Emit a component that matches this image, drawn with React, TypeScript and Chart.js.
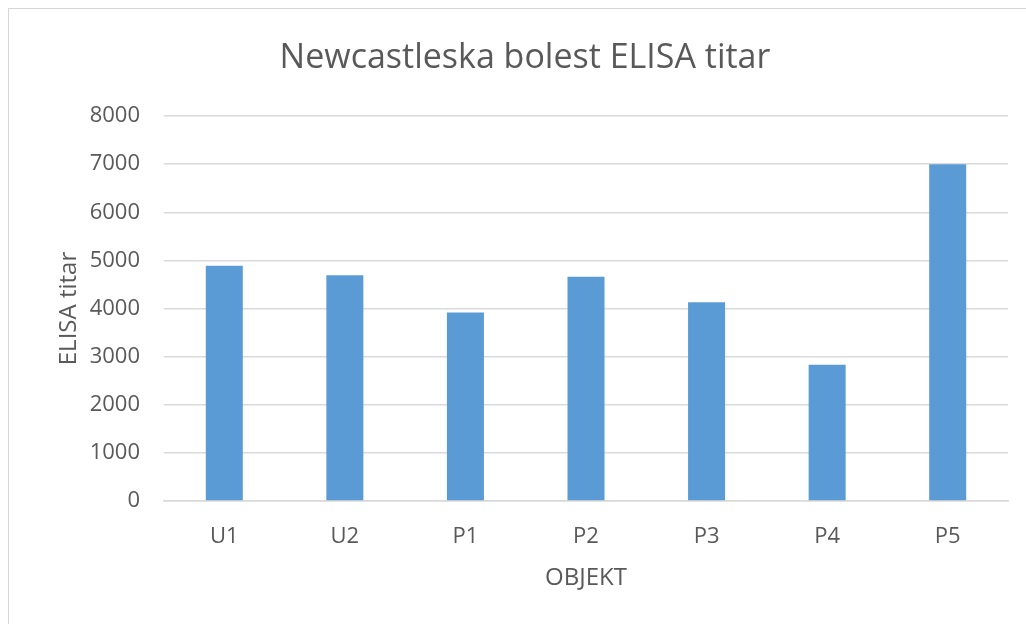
import React, { useEffect, useRef } from "react";
import { Chart, registerables } from "chart.js";

Chart.register(...registerables);

const categories = ["U1", "U2", "P1", "P2", "P3", "P4", "P5"];
const titarValues = [4890, 4690, 3915, 4660, 4130, 2830, 6995];
const yMin = 0;
const yMax = 8000;
const yStep = 1000;
const chartTitle = "Newcastleska bolest ELISA titar";
const xTitle = "OBJEKT";
const yTitle = "ELISA titar";

const FONT = "'Open Sans', 'Noto Sans', sans-serif";
const TEXT = "#595959";
const GRID = "#d9d9d9";

export default function App() {
  const ref = useRef<HTMLCanvasElement | null>(null);

  useEffect(() => {
    if (!ref.current) return;
    const chart = new Chart(ref.current, {
      type: "bar",
      data: {
        labels: categories,
        datasets: [
          {
            label: yTitle,
            data: titarValues,
            backgroundColor: "#5b9bd5",
            borderWidth: 0,
            categoryPercentage: 1,
            barPercentage: 0.307,
          },
        ],
      },
      options: {
        responsive: false,
        animation: false,
        layout: { padding: { left: 42, right: 18, top: 0, bottom: 27.6 } },
        plugins: {
          legend: { display: false },
          tooltip: { enabled: false },
          title: {
            display: true,
            text: chartTitle,
            color: TEXT,
            font: { family: FONT, size: 34, weight: "normal" },
            padding: { top: 38, bottom: 37.2 },
          },
        },
        scales: {
          x: {
            grid: { display: false },
            border: { display: true, color: GRID, width: 1.5 },
            ticks: {
              color: TEXT,
              font: { family: FONT, size: 22 },
              padding: 15,
            },
            title: {
              display: true,
              text: xTitle,
              color: TEXT,
              font: { family: FONT, size: 24 },
              padding: { top: 4, bottom: 4 },
            },
            afterFit: (s: any) => {
              s.height = 95.4;
            },
          },
          y: {
            min: yMin,
            max: yMax,
            grid: { color: GRID, lineWidth: 1.5, drawTicks: false },
            border: { display: false },
            ticks: {
              stepSize: yStep,
              color: TEXT,
              font: { family: FONT, size: 22 },
              padding: 24,
              callback: (v: any) => String(v),
            },
            title: {
              display: true,
              text: yTitle,
              color: TEXT,
              font: { family: FONT, size: 24 },
              padding: { top: 13, bottom: 4 },
            },
            afterFit: (s: any) => {
              s.width = 122;
            },
          },
        },
      },
    });
    return () => chart.destroy();
  }, []);

  return (
    <div>
      <div
        style={{
          position: "absolute",
          left: 8,
          top: 8,
          width: 1040,
          height: 640,
          borderTop: "1.5px solid #d6d6d6",
          borderLeft: "1.5px solid #d6d6d6",
          boxSizing: "border-box",
        }}
      />
      <canvas
        ref={ref}
        width={1026}
        height={624}
        style={{ position: "absolute", left: 0, top: 0, width: 1026, height: 624 }}
      />
    </div>
  );
}
